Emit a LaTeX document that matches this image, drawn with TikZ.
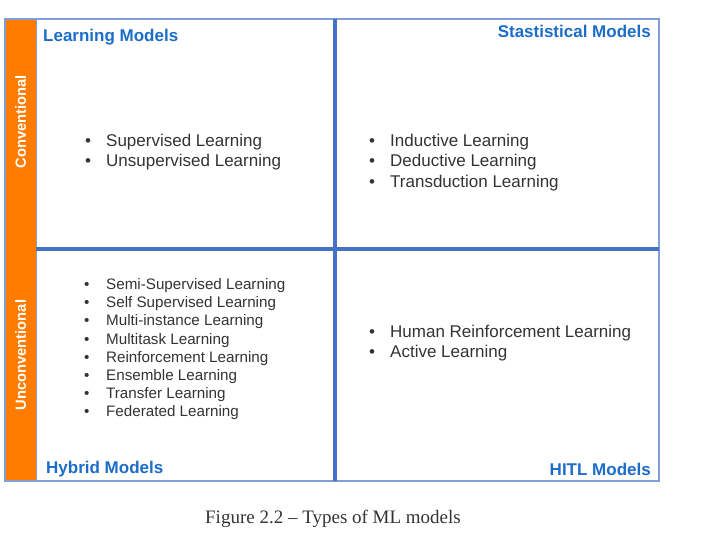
\documentclass[tikz,border=0pt]{standalone}
\usepackage{fontspec}
\setmainfont{Liberation Sans}
\newfontfamily\capfont{Liberation Serif}
\definecolor{gridblue}{HTML}{4472C4}
\definecolor{edgeblue}{HTML}{7F9FDB}
\definecolor{headblue}{HTML}{1C6DC7}
\definecolor{barorange}{HTML}{FF7C00}
\definecolor{itemgray}{HTML}{333333}
\tikzset{
  header/.style={inner sep=0pt, text=headblue, font=\fontsize{17}{20}\selectfont\bfseries},
  sidelabel/.style={inner sep=0pt, text=white, rotate=90, font=\fontsize{14.7}{17}\selectfont\bfseries},
  itemlist/.style={inner sep=0pt, anchor=base west, text=itemgray},
  gridline/.style={draw=gridblue, line width=4pt},
}
\newcommand{\biglist}[1]{{\fontsize{17}{20.5}\selectfont\begin{tabular}[t]{@{}p{21pt}@{}l@{}}#1\end{tabular}}}
\newcommand{\smalllist}[1]{{\fontsize{15.2}{18.2}\selectfont\begin{tabular}[t]{@{}p{22pt}@{}l@{}}#1\end{tabular}}}
\begin{document}
\begin{tikzpicture}[x=1pt,y=-1pt]
\useasboundingbox (0,0) rectangle (705,537);
% frame
\draw[draw=edgeblue, line width=1.2pt] (5,19) rectangle (659,481);
\fill[barorange] (5.6,19.6) rectangle (36,480.4);
\draw[draw=edgeblue, line width=0.8pt] (36,19) -- (36,481);
\draw[gridline] (335,19) -- (335,481);
\draw[gridline] (36,249) -- (659,249);
% side labels
\node[sidelabel] (conv) at (20.5,122) {Conventional};
\node[sidelabel] (unconv) at (20.5,355) {Unconventional};
% headers
\node[header, anchor=base west] (lm) at (43,42) {Learning Models};
\node[header, anchor=base east] (sm) at (651,38) {Stastistical Models};
\node[header, anchor=base west] (hm) at (46,474) {Hybrid Models};
\node[header, anchor=base east] (hitl) at (651,476) {HITL Models};
% lists
\node[itemlist] (tl) at (85,146.5) {\biglist{\textbullet & Supervised Learning\\ \textbullet & Unsupervised Learning}};
\node[itemlist] (tr) at (369,146.5) {\biglist{\textbullet & Inductive Learning\\ \textbullet & Deductive Learning\\ \textbullet & Transduction Learning}};
\node[itemlist] (bl) at (84,289.5) {\smalllist{\textbullet & Semi-Supervised Learning\\ \textbullet & Self Supervised Learning\\ \textbullet & Multi-instance Learning\\ \textbullet & Multitask Learning\\ \textbullet & Reinforcement Learning\\ \textbullet & Ensemble Learning\\ \textbullet & Transfer Learning\\ \textbullet & Federated Learning}};
\node[itemlist] (br) at (369,337.5) {\biglist{\textbullet & Human Reinforcement Learning\\ \textbullet & Active Learning}};
% caption
\node[inner sep=0pt, anchor=base, text=itemgray, font=\capfont\fontsize{19}{22}\selectfont] (cap) at (333,523) {Figure 2.2 – Types of ML models};
\end{tikzpicture}
\end{document}
